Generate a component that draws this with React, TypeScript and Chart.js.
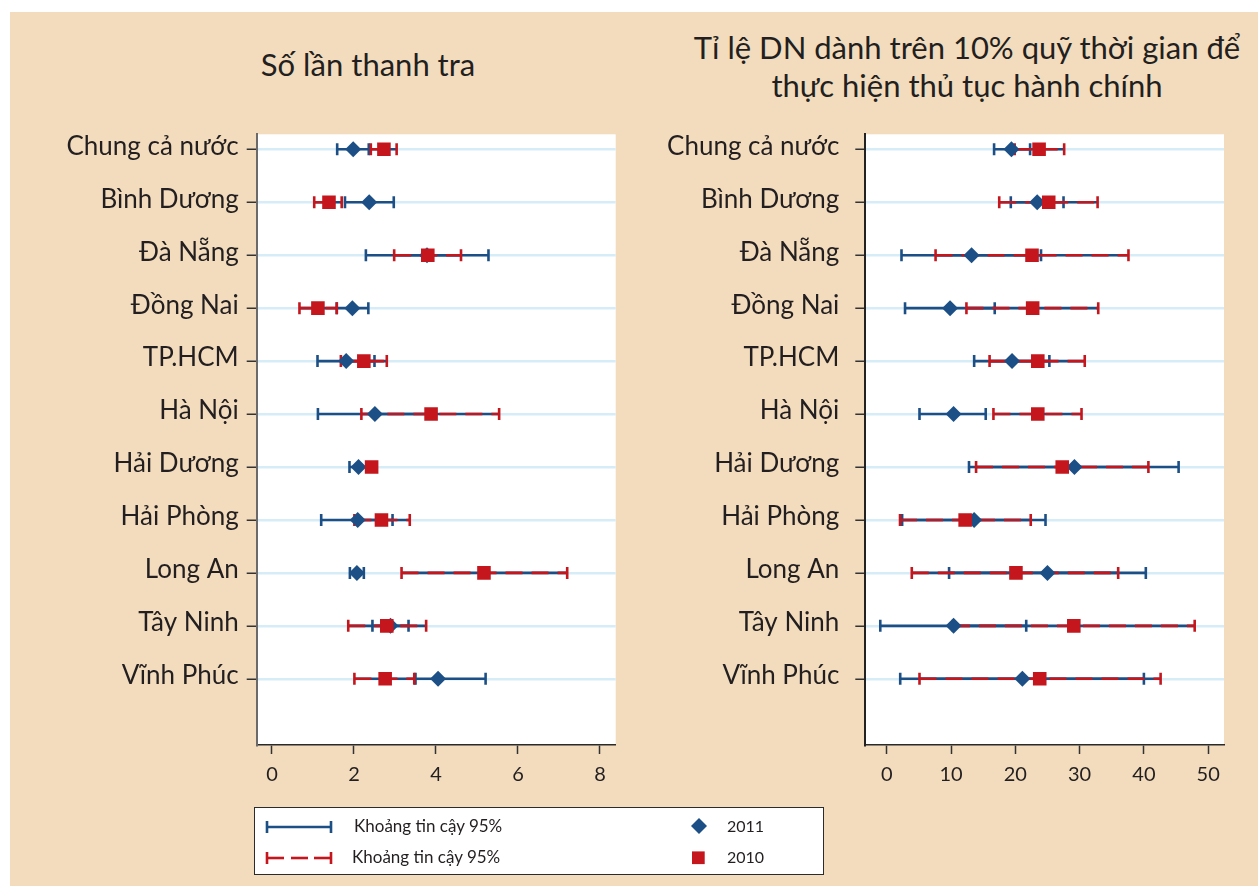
import React, { useEffect, useRef } from "react";
import { Chart, registerables } from "chart.js";

Chart.register(...registerables);

const categories = [
  "Chung cả nước",
  "Bình Dương",
  "Đà Nẵng",
  "Đồng Nai",
  "TP.HCM",
  "Hà Nội",
  "Hải Dương",
  "Hải Phòng",
  "Long An",
  "Tây Ninh",
  "Vĩnh Phúc",
];

// Left panel: Số lần thanh tra
const inspect2011 = [1.98, 2.37, 3.78, 1.96, 1.81, 2.51, 2.11, 2.09, 2.07, 2.89, 4.05];
const inspect2011Lo = [1.59, 1.78, 2.29, 1.58, 1.11, 1.12, 1.89, 1.2, 1.9, 2.45, 3.5];
const inspect2011Hi = [2.36, 2.97, 5.28, 2.35, 2.5, 3.9, 2.3, 2.94, 2.24, 3.33, 5.21];
const inspect2010 = [2.73, 1.39, 3.8, 1.12, 2.24, 3.88, 2.43, 2.67, 5.17, 2.8, 2.76];
const inspect2010Lo = [2.41, 1.03, 2.98, 0.67, 1.68, 2.18, 2.33, 2.01, 3.16, 1.86, 2.01];
const inspect2010Hi = [3.04, 1.7, 4.61, 1.58, 2.8, 5.54, 2.55, 3.36, 7.2, 3.76, 3.47];
const leftTicks = [0, 2, 4, 6, 8];

// Right panel: Tỉ lệ DN dành trên 10% quỹ thời gian để thực hiện thủ tục hành chính
const admin2011 = [19.4, 23.4, 13.2, 9.85, 19.5, 10.4, 29.2, 13.6, 25.0, 10.4, 21.1];
const admin2011Lo = [16.7, 19.3, 2.3, 2.85, 13.6, 5.1, 12.8, 2.4, 9.7, -1.0, 2.1];
const admin2011Hi = [22.3, 27.5, 24.0, 16.8, 25.3, 15.4, 45.4, 24.7, 40.3, 21.7, 40.0];
const admin2010 = [23.7, 25.2, 22.6, 22.7, 23.5, 23.5, 27.3, 12.2, 20.1, 29.1, 23.8];
const admin2010Lo = [19.9, 17.5, 7.6, 12.4, 16.0, 16.6, 13.9, 2.07, 3.9, 10.3, 5.1];
const admin2010Hi = [27.6, 32.8, 37.6, 32.9, 30.8, 30.3, 40.7, 22.4, 36.0, 47.9, 42.6];
const rightTicks = [0, 10, 20, 30, 40, 50];

const titleLeft = "Số lần thanh tra";
const titleRight = ["Tỉ lệ DN dành trên 10% quỹ thời gian để", "thực hiện thủ tục hành chính"];
const legendCI = "Khoảng tin cậy 95%";
const legendYears = ["2011", "2010"];

const BLUE = "#1B4F86";
const RED = "#C5161D";
const BEIGE = "#F2DCBD";
const TEXT = "#231F20";
const FONT = "Lato, 'Open Sans', sans-serif";

type PanelSpec = {
  v2011: number[];
  lo2011: number[];
  hi2011: number[];
  v2010: number[];
  lo2010: number[];
  hi2010: number[];
  ticks: number[];
  xMin: number;
  xMax: number;
  yWidth: number;
  padRight: number;
  labelPad: number;
  yBorder: string;
};

const bgPlugin = {
  id: "areaBg",
  beforeDraw(chart: any) {
    const { ctx, chartArea: a } = chart;
    ctx.save();
    ctx.fillStyle = "#ffffff";
    ctx.fillRect(a.left, a.top, a.right - a.left, a.bottom - a.top);
    ctx.restore();
  },
};

function buildConfig(p: PanelSpec): any {
  const squares = {
    data: p.v2010.map((x, i) => ({ x, y: i + 1 })),
    showLine: false,
    pointStyle: "rect",
    pointRadius: 9.6,
    pointHoverRadius: 9.6,
    pointBackgroundColor: RED,
    pointBorderWidth: 0,
    order: 0,
  };
  const diamonds = {
    data: p.v2011.map((x, i) => ({ x, y: i + 1 })),
    showLine: false,
    pointStyle: "rectRot",
    pointRadius: 8,
    pointHoverRadius: 8,
    pointBackgroundColor: BLUE,
    pointBorderWidth: 0,
    order: 1,
  };
  const redCI = categories.map((_, i) => ({
    data: [
      { x: p.lo2010[i], y: i + 1 },
      { x: p.hi2010[i], y: i + 1 },
    ],
    showLine: true,
    borderColor: RED,
    borderWidth: 2.6,
    borderDash: [17, 9],
    pointStyle: "line",
    rotation: 90,
    pointRadius: 6,
    pointHoverRadius: 6,
    pointBorderColor: RED,
    pointBorderWidth: 2.6,
    order: 2,
  }));
  const redUnder = categories.map((_, i) => ({
    data: [
      { x: p.lo2010[i], y: i + 1 },
      { x: p.hi2010[i], y: i + 1 },
    ],
    showLine: true,
    borderColor: BLUE,
    borderWidth: 2.6,
    pointRadius: 0,
    pointHoverRadius: 0,
    order: 3,
  }));
  const blueCI = categories.map((_, i) => ({
    data: [
      { x: p.lo2011[i], y: i + 1 },
      { x: p.hi2011[i], y: i + 1 },
    ],
    showLine: true,
    borderColor: BLUE,
    borderWidth: 2.6,
    pointStyle: "line",
    rotation: 90,
    pointRadius: 6,
    pointHoverRadius: 6,
    pointBorderColor: BLUE,
    pointBorderWidth: 2.6,
    order: 4,
  }));

  return {
    type: "scatter",
    data: { datasets: [squares, diamonds, ...redCI, ...redUnder, ...blueCI] },
    plugins: [bgPlugin],
    options: {
      responsive: false,
      animation: false,
      events: [],
      devicePixelRatio: 1,
      layout: { padding: { top: 134.3, right: p.padRight, bottom: 0, left: 0 } },
      plugins: {
        legend: { display: false },
        tooltip: { enabled: false },
        title: { display: false },
      },
      scales: {
        x: {
          type: "linear",
          min: p.xMin,
          max: p.xMax,
          afterBuildTicks: (s: any) => {
            s.ticks = p.ticks.map((v) => ({ value: v }));
          },
          afterFit: (s: any) => {
            s.height = 55;
          },
          ticks: {
            color: TEXT,
            font: { family: FONT, size: 20 },
            padding: 9,
            autoSkip: false,
            maxRotation: 0,
          },
          grid: {
            drawOnChartArea: false,
            drawTicks: true,
            tickLength: 9,
            tickColor: "#333333",
            tickWidth: 1.5,
          },
          border: { display: true, color: "#2a2a2a", width: 1.6 },
        },
        y: {
          type: "linear",
          reverse: true,
          min: 0.717,
          max: 12.25,
          afterBuildTicks: (s: any) => {
            s.ticks = categories.map((_, i) => ({ value: i + 1 }));
          },
          afterFit: (s: any) => {
            s.width = p.yWidth;
          },
          ticks: {
            color: TEXT,
            font: { family: FONT, size: 26 },
            padding: p.labelPad,
            labelOffset: -3,
            autoSkip: false,
            callback: (v: any) => categories[Math.round(Number(v)) - 1] ?? "",
          },
          grid: {
            color: "#D6EDF8",
            lineWidth: 2.5,
            drawTicks: true,
            tickLength: 10,
            tickColor: "#333333",
            tickWidth: 1.5,
          },
          border: { display: true, color: p.yBorder, width: 2 },
        },
      },
    },
  };
}

const leftSpec: PanelSpec = {
  v2011: inspect2011,
  lo2011: inspect2011Lo,
  hi2011: inspect2011Hi,
  v2010: inspect2010,
  lo2010: inspect2010Lo,
  hi2010: inspect2010Hi,
  ticks: leftTicks,
  xMin: -0.373,
  xMax: 8.383,
  yWidth: 246.7,
  padRight: 14.3,
  labelPad: 8,
  yBorder: "#6a6a6a",
};

const rightSpec: PanelSpec = {
  v2011: admin2011,
  lo2011: admin2011Lo,
  hi2011: admin2011Hi,
  v2010: admin2010,
  lo2010: admin2010Lo,
  hi2010: admin2010Hi,
  ticks: rightTicks,
  xMin: -3.33,
  xMax: 52.46,
  yWidth: 235.3,
  padRight: 34,
  labelPad: 16,
  yBorder: "#222222",
};

function Panel({ spec, left, width }: { spec: PanelSpec; left: number; width: number }) {
  const ref = useRef<HTMLCanvasElement | null>(null);
  useEffect(() => {
    if (!ref.current) return;
    const chart = new Chart(ref.current, buildConfig(spec));
    return () => chart.destroy();
  }, [spec]);
  return (
    <canvas
      ref={ref}
      width={width}
      height={800}
      style={{ position: "absolute", left, top: 0, width, height: 800 }}
    />
  );
}

export default function App() {
  useEffect(() => {
    document.body.style.margin = "0";
  }, []);
  const textStyle: React.CSSProperties = {
    position: "absolute",
    color: TEXT,
    fontFamily: FONT,
    whiteSpace: "nowrap",
  };
  return (
    <div style={{ position: "relative", width: 1258, height: 886, background: "#ffffff", overflow: "hidden" }}>
      <div style={{ position: "absolute", left: 10, top: 12, width: 1248, height: 874, background: BEIGE }} />
      <div style={{ ...textStyle, left: 168, top: 46, width: 400, textAlign: "center", fontSize: 31, lineHeight: "37px" }}>
        {titleLeft}
      </div>
      <div style={{ ...textStyle, left: 667, top: 28, width: 600, textAlign: "center", fontSize: 31, lineHeight: "38px" }}>
        {titleRight.map((t) => (
          <div key={t}>{t}</div>
        ))}
      </div>
      <Panel spec={leftSpec} left={10} width={620} />
      <Panel spec={rightSpec} left={630} width={628} />
      <div
        style={{
          position: "absolute",
          left: 254,
          top: 807,
          width: 570,
          height: 68,
          boxSizing: "border-box",
          border: "1.5px solid #2b2b2b",
          background: "#ffffff",
        }}
      />
      <svg style={{ position: "absolute", left: 0, top: 0 }} width={1258} height={886} pointerEvents="none">
        <g stroke={BLUE} strokeWidth={2.6} fill="none">
          <line x1={267} y1={827} x2={331} y2={827} />
          <line x1={267} y1={821} x2={267} y2={833} />
          <line x1={331} y1={821} x2={331} y2={833} />
        </g>
        <g stroke={RED} strokeWidth={2.6} fill="none">
          <line x1={267} y1={858} x2={284} y2={858} />
          <line x1={291} y1={858} x2={308} y2={858} />
          <line x1={314} y1={858} x2={331} y2={858} />
          <line x1={267} y1={852} x2={267} y2={864} />
          <line x1={331} y1={852} x2={331} y2={864} />
        </g>
        <polygon points="691,826 699,818 707,826 699,834" fill={BLUE} />
        <rect x={692} y={851.4} width={12.7} height={12.7} fill={RED} />
      </svg>
      <div style={{ ...textStyle, left: 354, top: 816, fontSize: 17, lineHeight: "20px" }}>{legendCI}</div>
      <div style={{ ...textStyle, left: 352, top: 847, fontSize: 17, lineHeight: "20px" }}>{legendCI}</div>
      <div style={{ ...textStyle, left: 727, top: 816, fontSize: 16, lineHeight: "20px" }}>{legendYears[0]}</div>
      <div style={{ ...textStyle, left: 727, top: 847, fontSize: 16, lineHeight: "20px" }}>{legendYears[1]}</div>
    </div>
  );
}
